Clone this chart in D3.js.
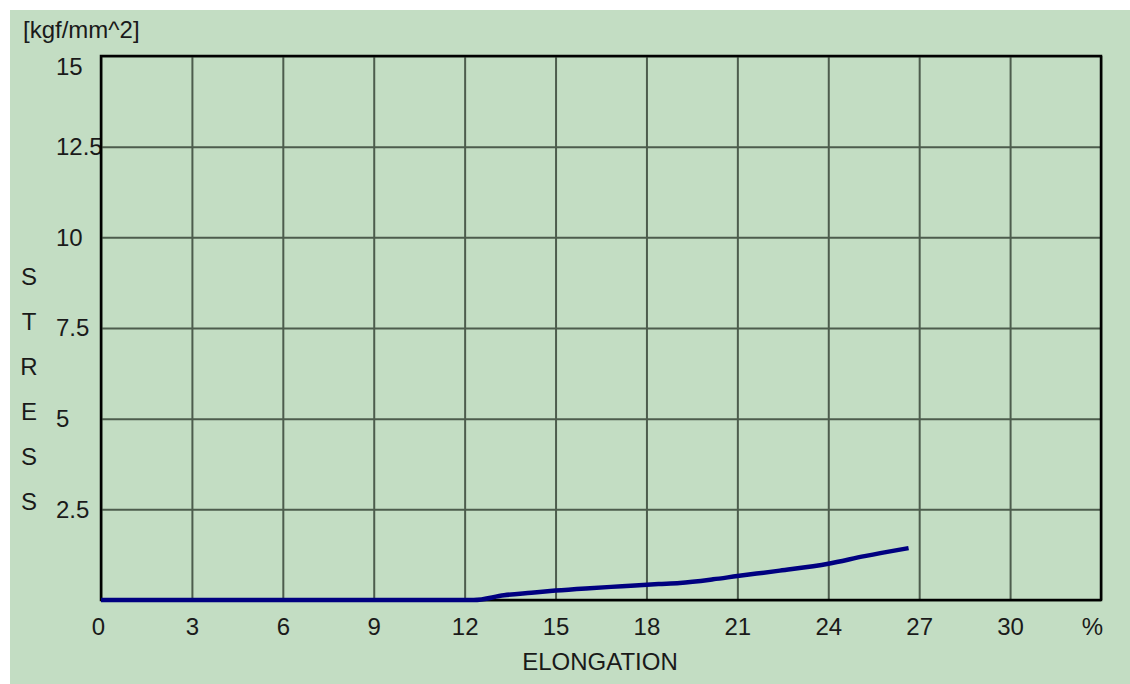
<!DOCTYPE html>
<html>
<head>
<meta charset="utf-8">
<script src="https://cdn.jsdelivr.net/npm/d3@7"></script>
<style>
  body { margin: 0; background: #ffffff; }
  text { font-family: "Liberation Sans", Arial, sans-serif; fill: #1a1a1a; }
</style>
</head>
<body>
<div id="chart"></div>
<script>
var elongation = [0, 12.3, 13.3, 14.2, 15.0, 16.0, 17.2, 18.4, 19.1, 20.2, 21.0, 22.4, 24.0, 25.2, 26.65];
var stress     = [0, 0,    0.13, 0.2,  0.26, 0.32, 0.38, 0.44, 0.47, 0.57, 0.66, 0.81, 1.0,  1.21, 1.43];
var xTicks = [0, 3, 6, 9, 12, 15, 18, 21, 24, 27, 30, 33];
var yTicks = [0, 2.5, 5, 7.5, 10, 12.5, 15];
var yTitle = ["S", "T", "R", "E", "S", "S"];

var data = elongation.map((e, i) => ({ x: e, y: stress[i] }));

var margin = { top: 56, right: 29, bottom: 84, left: 101 },
    width = 1130 - margin.left - margin.right,
    height = 684 - margin.top - margin.bottom;

var root = d3.select("#chart")
    .append("svg")
    .attr("width", 1130)
    .attr("height", 684);

// green panel
root.append("rect")
    .attr("x", 10).attr("y", 10)
    .attr("width", 1120).attr("height", 674)
    .style("fill", "#c3ddc3");

var svg = root.append("g")
    .attr("transform", "translate(" + margin.left + "," + margin.top + ")");

var x = d3.scaleLinear().domain([0, 33]).range([0, width]);
var y = d3.scaleLinear().domain([0, 15]).range([height, 0]);

// X axis with grid
var gx = svg.append("g")
    .attr("transform", "translate(0," + height + ")")
    .call(d3.axisBottom(x).tickValues(xTicks).tickSize(-height)
        .tickFormat(d => d == 33 ? "%" : d));
gx.select(".domain").remove();
gx.selectAll(".tick line").style("stroke", "#4d5c4d").style("stroke-width", 2);
gx.selectAll(".tick text")
    .attr("y", 35).attr("dy", 0)
    .attr("dx", d => d == 33 ? -9 : (d == 0 ? -3 : 0))
    .style("font-size", "24px").style("font-family", "Liberation Sans, Arial, sans-serif")
    .style("fill", "#1a1a1a");

// Y axis with grid
var gy = svg.append("g")
    .call(d3.axisLeft(y).tickValues(yTicks).tickSize(-width));
gy.select(".domain").remove();
gy.selectAll(".tick line").style("stroke", "#4d5c4d").style("stroke-width", 2);
gy.selectAll(".tick text")
    .text(d => d == 0 ? "" : d)
    .attr("text-anchor", "start")
    .attr("x", 56 - margin.left)
    .attr("dy", d => d == 15 ? "0.75em" : "0.33em")
    .style("font-size", "24px").style("font-family", "Liberation Sans, Arial, sans-serif")
    .style("fill", "#1a1a1a");

// frame
svg.append("rect")
    .attr("x", 0).attr("y", 0)
    .attr("width", width).attr("height", height)
    .style("fill", "none")
    .style("stroke", "#000")
    .style("stroke-width", 2.5);

// curve
svg.append("path")
    .datum(data)
    .attr("d", d3.line().x(d => x(d.x)).y(d => y(d.y)).curve(d3.curveMonotoneX))
    .style("fill", "none")
    .style("stroke", "#000080")
    .style("stroke-width", 4.5);

// unit label
root.append("text")
    .attr("x", 23).attr("y", 38)
    .style("font-size", "24px")
    .text("[kgf/mm^2]");

// X title
root.append("text")
    .attr("x", 600).attr("y", 670)
    .attr("text-anchor", "middle")
    .style("font-size", "24px")
    .text("ELONGATION");

// Y title, one letter per line
root.append("g").selectAll("text")
    .data(yTitle)
    .enter()
    .append("text")
    .attr("x", 29)
    .attr("y", (d, i) => 285 + i * 45)
    .attr("text-anchor", "middle")
    .style("font-size", "24px")
    .text(d => d);
</script>
</body>
</html>
